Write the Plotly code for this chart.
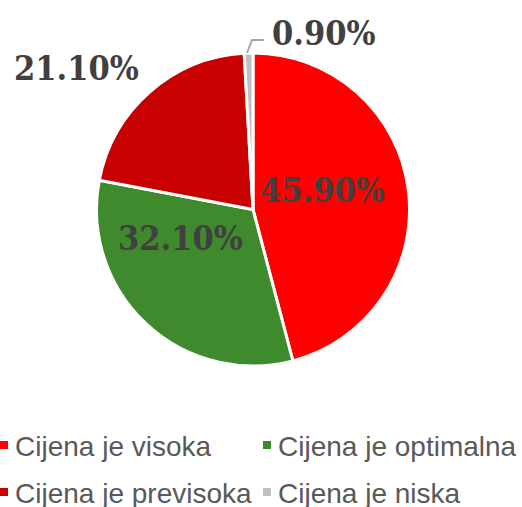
import plotly.graph_objects as go

# ── Data ───────────────────────────────────────────────────────────────────────
LABELS = ["Cijena je visoka", "Cijena je optimalna", "Cijena je previsoka", "Cijena je niska"]
VALUES = [45.9, 32.1, 21.1, 0.9]
COLORS = ["#ff0000", "#3f8a2c", "#c80000", "#bfbfbf"]

W, H = 522, 507
TEXT = "#404040"
LEGEND_TEXT = "#595959"
LABEL_FONT = dict(family="DejaVu Serif Condensed, DejaVu Serif, serif", size=34,
                  color=TEXT, weight="bold")
LEGEND_FONT = dict(family="Liberation Sans, Arial, sans-serif", size=28, color=LEGEND_TEXT)

# label anchor points in pixels (x, y from top)
LABEL_POS = [(322, 190), (180, 238), (76, 68), (324, 33)]
# legend grid (pixels): two columns, two rows
LEG_COL_X = [0, 263]
LEG_ROW_Y = [445, 492]
SWATCH = 8


def px_to_paper(x, y):
    return x / W, 1 - y / H


fig = go.Figure()
fig.add_trace(
    go.Pie(
        labels=LABELS,
        values=VALUES,
        sort=False,
        direction="clockwise",
        rotation=0,
        textinfo="none",
        marker=dict(colors=COLORS, line=dict(color="#ffffff", width=3)),
        domain=dict(x=[96 / W, 410 / W], y=[1 - 366 / H, 1 - 53 / H]),
        hoverinfo="label+percent",
        showlegend=False,
    )
)

for v, (x, y) in zip(VALUES, LABEL_POS):
    ax, ay = px_to_paper(x, y)
    fig.add_annotation(x=ax, y=ay, xref="paper", yref="paper", text=f"{v:.2f}%",
                       showarrow=False, font=LABEL_FONT, xanchor="center", yanchor="middle")

# leader line for the small slice
fig.add_shape(type="path", xref="paper", yref="paper",
              path="M {} {} L {} {} L {} {}".format(*px_to_paper(247, 53), *px_to_paper(252, 40), *px_to_paper(264, 40)),
              line=dict(color="#a6a6a6", width=2))

# legend: square swatch + label, laid out row by row
for i, (lab, col) in enumerate(zip(LABELS, COLORS)):
    lx = LEG_COL_X[i % 2]
    ly = LEG_ROW_Y[i // 2]
    x0, y0 = px_to_paper(lx, ly - SWATCH / 2)
    x1, y1 = px_to_paper(lx + SWATCH, ly + SWATCH / 2)
    fig.add_shape(type="rect", xref="paper", yref="paper", x0=x0, y0=y0, x1=x1, y1=y1,
                  fillcolor=col, line=dict(width=0))
    tx, ty = px_to_paper(lx + SWATCH + 6, ly + 1)
    fig.add_annotation(x=tx, y=ty, xref="paper", yref="paper", text=lab, showarrow=False,
                       font=LEGEND_FONT, xanchor="left", yanchor="middle", borderpad=0)

fig.update_layout(
    width=W, height=H,
    paper_bgcolor="#ffffff",
    plot_bgcolor="#ffffff",
    margin=dict(l=0, r=0, t=0, b=0, autoexpand=False),
    showlegend=False,
)

fig.write_html("out.html", config={"displayModeBar": False},
               post_script="document.body.style.margin='0';")
